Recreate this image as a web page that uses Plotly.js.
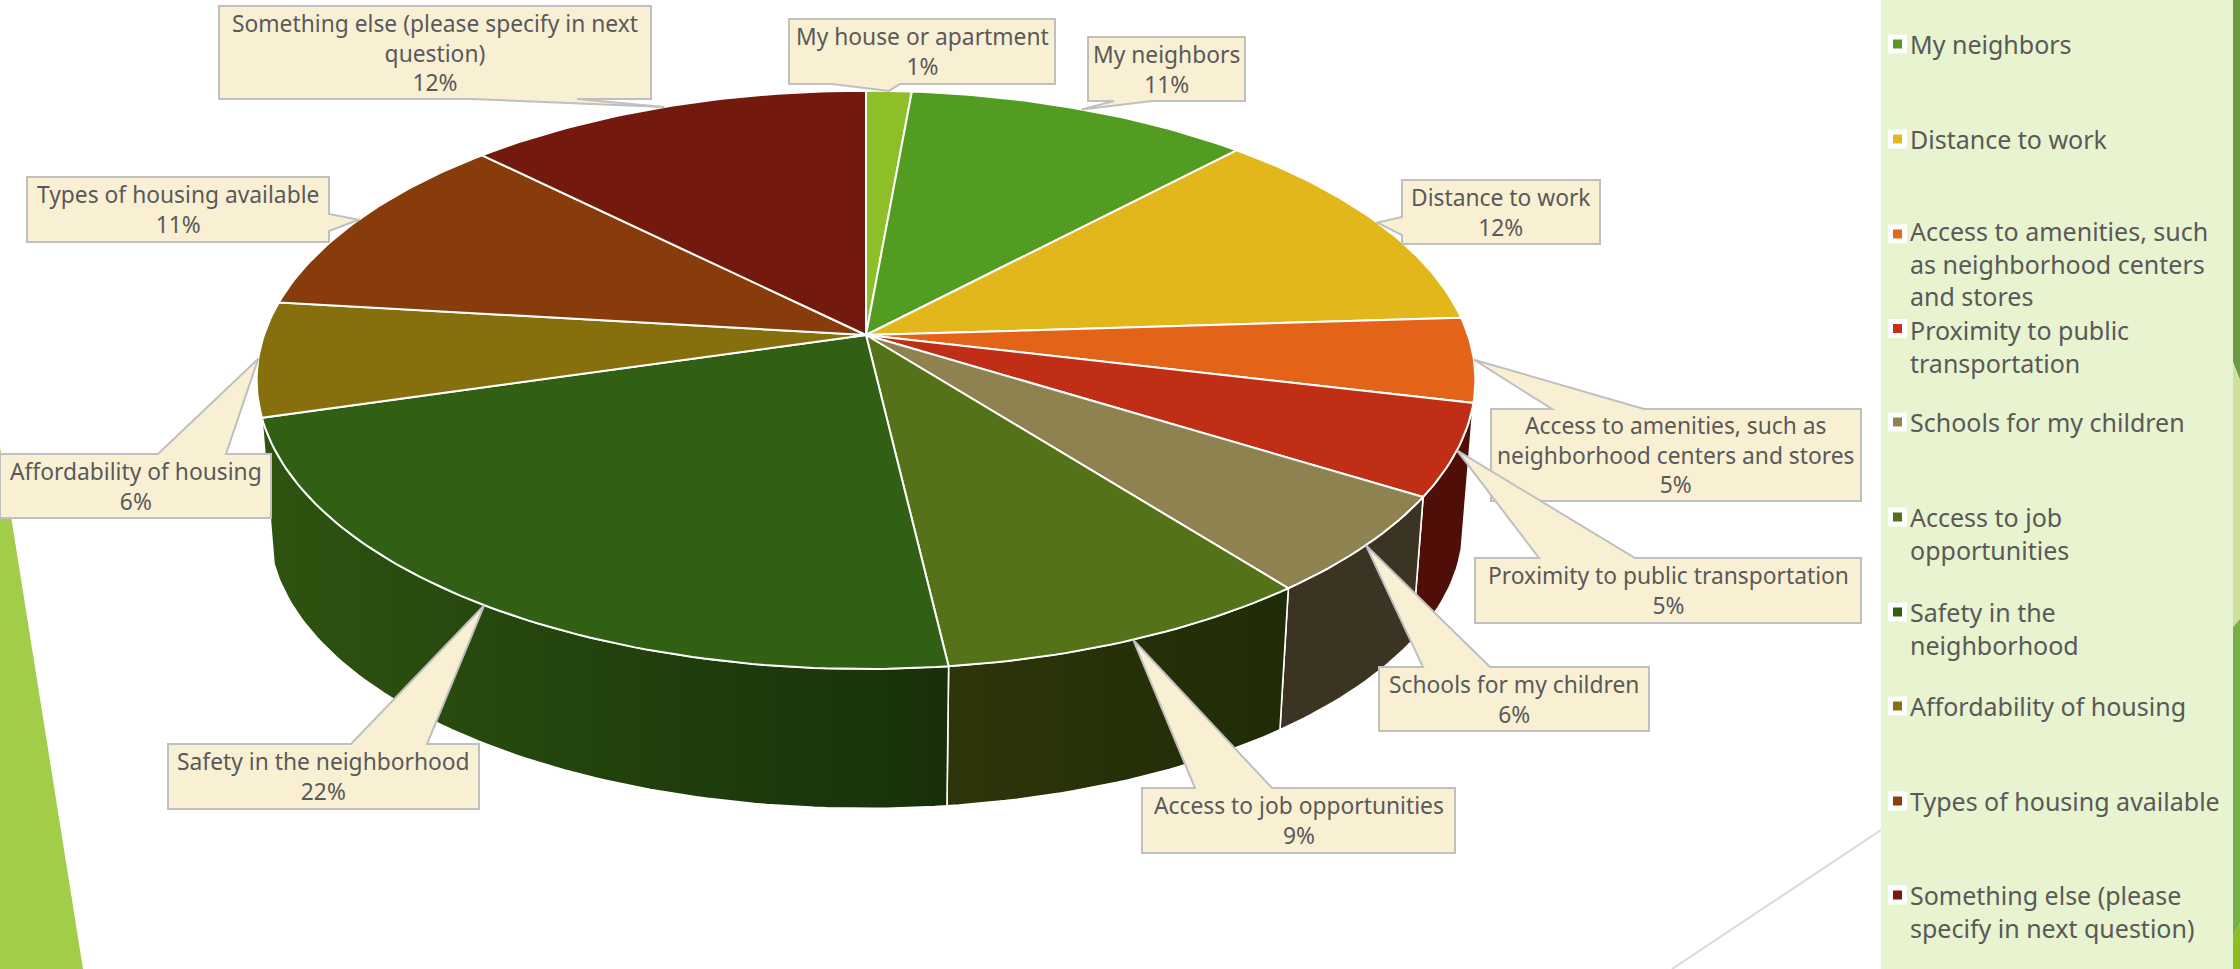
<!DOCTYPE html>
<html>
<head>
<meta charset="utf-8">
<script src="https://cdn.plot.ly/plotly-3.0.1.min.js"></script>
<style>html,body{margin:0;padding:0;background:#fff}#chart{width:2240px;height:969px}</style>
</head>
<body>
<div id="chart"></div>
<script>
// ---------- data ----------
var categories = ["My house or apartment","My neighbors","Distance to work","Access to amenities, such as neighborhood centers and stores","Proximity to public transportation","Schools for my children","Access to job opportunities","Safety in the neighborhood","Affordability of housing","Types of housing available","Something else (please specify in next question)"];
var values = [1.4,10.6,12.0,4.7,5.1,5.6,8.7,22.3,6.4,10.6,12.5];
var percentLabels = ["1%","11%","12%","5%","5%","6%","9%","22%","6%","11%","12%"];
var calloutLines = ["My house or apartment","My neighbors","Distance to work","Access to amenities, such as<br>neighborhood centers and stores","Proximity to public transportation","Schools for my children","Access to job opportunities","Safety in the neighborhood","Affordability of housing","Types of housing available","Something else (please specify in next<br>question)"];
var topColors = ["#8FBF26","#529C22","#E2B71C","#E36418","#C12E16","#8E8350","#547218","#315F13","#886F0D","#893C0B","#73190D"];
var wallLeftColors = [null,null,null,null,"#4F0F08","#3B3423","#2E3509","#2E5410",null,null,null];
var wallRightColors = [null,null,null,null,"#4F0F08","#3B3423","#1F2C07","#17300A",null,null,null];
var legendItems = ["My neighbors","Distance to work","Access to amenities, such<br>as neighborhood centers<br>and stores","Proximity to public<br>transportation","Schools for my children","Access to job<br>opportunities","Safety in the<br>neighborhood","Affordability of housing","Types of housing available","Something else (please<br>specify in next question)"];
var legendColors = ["#529C22","#E5B91C","#E8651A","#C92F18","#8F8554","#547218","#315F13","#8A700E","#8E3E0C","#7A1A0E"];

// ---------- layout parameters ----------
var legendY = [44,139,234,328.5,422,517,612,706,801,895];
var legendTextNudge = [0,0,-2.5,1.5,0,0,0,0,0,0];
var FONT = "'Noto Sans', Lato, sans-serif";
var TEXT = "#595959";
var LABEL_SIZE = 22.8, LEGEND_SIZE = 25;
// box [x0,y0,x1,y1], side of the box the pointer leaves from, pointer base [a,b]
var calloutBoxes = [
 {b:[789,19,1055,84],side:"bottom",base:[832,900]},
 {b:[1088,37,1245,101],side:"bottom",base:[1114,1152]},
 {b:[1402,180,1600,244],side:"left",base:[217,235]},
 {b:[1491,409,1861,501],side:"top",base:[1552,1644]},
 {b:[1475,558,1861,623],side:"top",base:[1539,1635]},
 {b:[1379,667,1649,731],side:"top",base:[1423,1490]},
 {b:[1142,788,1455,853],side:"top",base:[1195,1272]},
 {b:[168,744,479,809],side:"top",base:[351,427]},
 {b:[0,454,271,518],side:"top",base:[158,226]},
 {b:[27,177,329,242],side:"right",base:[214,231]},
 {b:[219,6,651,99],side:"bottom",base:[472,577]}
];
// perspective disc on the pixel-sized axes
var CX = 866, K = 0.155;
var topDisc = {cy:335, A:602, B:282.2};
var lowDisc = {cy:483, A:590, B:275};
function rim(disc, deg){
  var t = deg*Math.PI/180, u = Math.sin(t), v = -Math.cos(t), d = 1-K*v;
  return [CX + disc.A*u/d, disc.cy + disc.B*v/d];
}
function arc(disc, a, b){
  var pts = [], n = Math.max(2, Math.ceil(Math.abs(b-a)));
  for (var i=0;i<=n;i++) pts.push(rim(disc, a+(b-a)*i/n));
  return pts;
}
var total = values.reduce(function(s,v){return s+v;},0);
var starts = [], acc = 0;
values.forEach(function(v){starts.push(acc/total*360); acc += v;});
var ends = starts.map(function(s,i){return s+values[i]/total*360;});

var traces = [];
// side walls
values.forEach(function(v,i){
  if(!wallLeftColors[i]) return;
  var pts = arc(topDisc,starts[i],ends[i]).concat(arc(lowDisc,ends[i],starts[i]));
  pts.push(pts[0]);
  traces.push({type:"scatter",mode:"lines",name:categories[i]+" side",x:pts.map(function(p){return p[0];}),y:pts.map(function(p){return p[1];}),
    fill:"toself",line:{color:"#FFFFFF",width:1.6},hoverinfo:"skip",showlegend:false,
    fillgradient:{type:"horizontal",colorscale:[[0,wallLeftColors[i]],[1,wallRightColors[i]]]}});
});
// top slices
values.forEach(function(v,i){
  var pts = [[CX,topDisc.cy]].concat(arc(topDisc,starts[i],ends[i]));
  pts.push([CX,topDisc.cy]);
  traces.push({type:"scatter",mode:"lines",name:categories[i],x:pts.map(function(p){return p[0];}),y:pts.map(function(p){return p[1];}),
    fill:"toself",fillcolor:topColors[i],line:{color:"#FFFFFF",width:2},hoverinfo:"text",text:categories[i]+": "+percentLabels[i],showlegend:false});
});
// legend keys
traces.push({type:"scatter",mode:"markers",x:legendY.map(function(){return 1897.5;}),y:legendY,marker:{symbol:"square",size:19,color:"#FFFFFF",line:{width:0}},hoverinfo:"skip",showlegend:false});
traces.push({type:"scatter",mode:"markers",x:legendY.map(function(){return 1897.5;}),y:legendY,marker:{symbol:"square",size:9,color:legendColors,line:{width:0}},hoverinfo:"skip",showlegend:false});

function poly(pts,fill,layer){
  return {type:"path",xref:"x",yref:"y",layer:layer||"below",path:"M"+pts.map(function(p){return p[0]+" "+p[1];}).join(" L")+" Z",fillcolor:fill,line:{width:0}};
}
var shapes = [
  poly([[1881,0],[2233,0],[2233,969],[1881,969]],"#E8F3D0"),
  poly([[0,447],[83,969],[0,969]],"#A2CD48"),
  poly([[2233,0],[2240,0],[2240,380],[2233,362]],"#6C9A45"),
  poly([[2233,362],[2240,380],[2240,619],[2233,627]],"#CFE09D"),
  poly([[2233,627],[2240,619],[2240,923],[2233,937]],"#75B145"),
  poly([[2233,937],[2240,923],[2240,969],[2233,969]],"#8FBC26"),
  {type:"line",xref:"x",yref:"y",layer:"below",x0:1672,y0:969,x1:1881,y1:830,line:{color:"#D9D9D9",width:2}}
];
var annotations = [];
calloutBoxes.forEach(function(c,i){
  var tip = rim(topDisc,(starts[i]+ends[i])/2), b = c.b, x0=b[0],y0=b[1],x1=b[2],y1=b[3], p;
  if(c.side==="top") p=[[x0,y0],[c.base[0],y0],tip,[c.base[1],y0],[x1,y0],[x1,y1],[x0,y1]];
  if(c.side==="bottom") p=[[x0,y0],[x1,y0],[x1,y1],[c.base[1],y1],tip,[c.base[0],y1],[x0,y1]];
  if(c.side==="left") p=[[x0,y0],[x1,y0],[x1,y1],[x0,y1],[x0,c.base[1]],tip,[x0,c.base[0]]];
  if(c.side==="right") p=[[x0,y0],[x1,y0],[x1,c.base[0]],tip,[x1,c.base[1]],[x1,y1],[x0,y1]];
  var s = poly(p,"#F9F0D4","above"); s.line={color:"#BFBFBF",width:2};
  shapes.push(s);
  annotations.push({xref:"x",yref:"y",x:(x0+x1)/2,y:(y0+y1)/2,xanchor:"center",yanchor:"middle",showarrow:false,align:"center",
    text:calloutLines[i]+"<br>"+percentLabels[i],font:{family:FONT,size:LABEL_SIZE,color:TEXT}});
});
legendItems.forEach(function(t,i){
  annotations.push({xref:"x",yref:"y",x:1909,y:legendY[i]-18.5+legendTextNudge[i],xanchor:"left",yanchor:"top",showarrow:false,align:"left",borderpad:0,
    text:t,font:{family:FONT,size:LEGEND_SIZE,color:TEXT}});
});
Plotly.newPlot("chart",traces,{
  width:2240,height:969,margin:{l:0,r:0,t:0,b:0},paper_bgcolor:"#FFFFFF",plot_bgcolor:"rgba(0,0,0,0)",showlegend:false,
  xaxis:{range:[0,2240],visible:false,fixedrange:true},
  yaxis:{range:[969,0],visible:false,fixedrange:true},
  shapes:shapes,annotations:annotations
},{displayModeBar:false,responsive:false});
</script>
</body>
</html>
